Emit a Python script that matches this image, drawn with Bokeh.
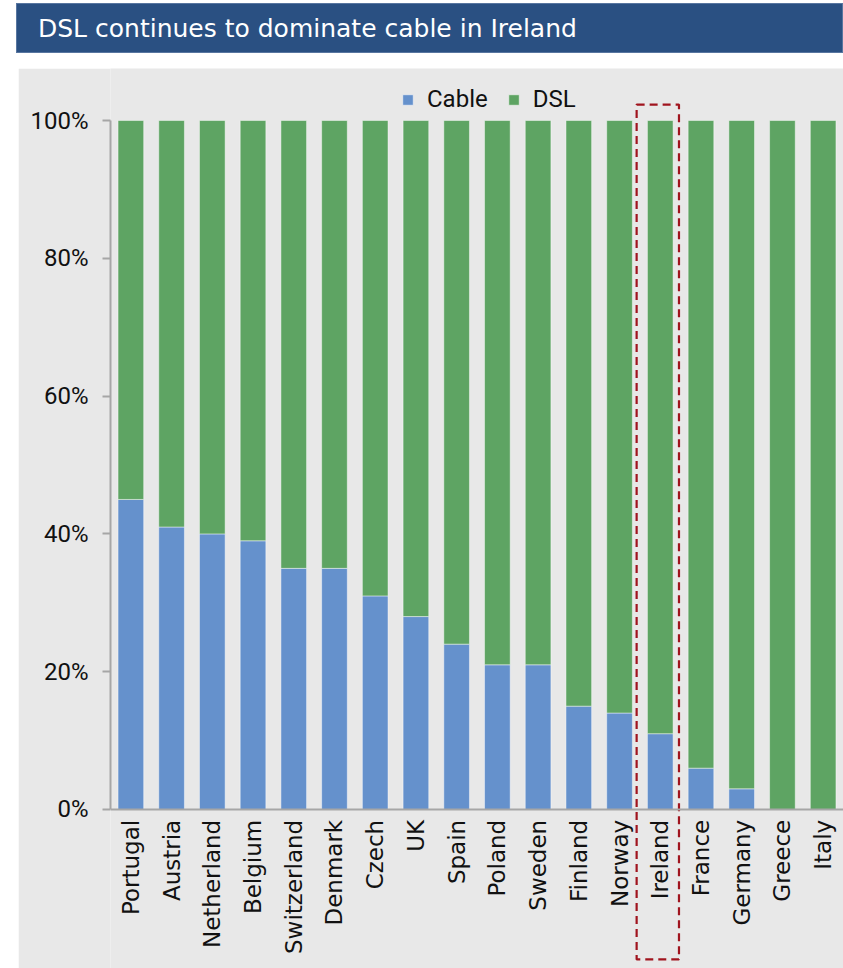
from bokeh.plotting import figure
from bokeh.models import (ColumnDataSource, FactorRange, Range1d, FixedTicker,
                          PrintfTickFormatter, Span, Div, Legend)
from bokeh.layouts import column
from bokeh.core.properties import value
from bokeh.embed import file_html
from bokeh.resources import INLINE
import math

# ---- data ----
countries = ["Portugal", "Austria", "Netherland", "Belgium", "Switzerland", "Denmark",
             "Czech", "UK", "Spain", "Poland", "Sweden", "Finland", "Norway", "Ireland",
             "France", "Germany", "Greece", "Italy"]
cable = [45, 41, 40, 39, 35, 35, 31, 28, 24, 21, 21, 15, 14, 11, 6, 3, 0, 0]
dsl = [55, 59, 60, 61, 65, 65, 69, 72, 76, 79, 79, 85, 86, 89, 94, 97, 100, 100]
y_ticks = [0, 20, 40, 60, 80, 100]
highlight = "Ireland"
title_text = "DSL continues to dominate cable in Ireland"

BLUE = "#6591cc"
GREEN = "#5ea463"
PANEL = "#e8e8e8"
TICK_FONT = "Roboto"

src = ColumnDataSource(dict(country=countries, Cable=cable, DSL=dsl))

p = figure(width=825, height=900, output_backend="svg", toolbar_location=None,
           x_range=FactorRange(factors=countries, range_padding=0),
           y_range=Range1d(-23.08, 107.55),
           x_axis_location=None, margin=(15, 0, 0, 18))
p.min_border_left = 92
p.min_border_right = 0
p.min_border_top = 0
p.min_border_bottom = 0
p.border_fill_color = PANEL
p.background_fill_color = PANEL
p.outline_line_color = None
p.xgrid.visible = False
p.ygrid.visible = False

renderers = p.vbar_stack(["Cable", "DSL"], x="country", width=0.63, source=src,
                         color=[BLUE, GREEN], line_color="#ffffff", line_alpha=0.45,
                         line_width=1)

# y axis
ax = p.yaxis[0]
ax.bounds = (0, 100)
ax.ticker = FixedTicker(ticks=y_ticks)
ax.formatter = PrintfTickFormatter(format="%d%%")
ax.axis_line_color = "#a6a6a6"
ax.axis_line_width = 2
ax.major_tick_line_color = "#a6a6a6"
ax.major_tick_line_width = 2
ax.major_tick_out = 8
ax.major_tick_in = 0
ax.minor_tick_line_color = None
ax.major_label_standoff = 14
ax.major_label_text_font = TICK_FONT
ax.major_label_text_font_size = "24px"
ax.major_label_text_color = "#111111"

# x axis line
p.add_layout(Span(location=0, dimension="width", line_color="#a6a6a6", line_width=2))

# category labels
p.text(x="country", y=-1.5, text="country", source=src, angle=math.pi / 2,
       text_align="right", text_baseline="middle",
       text_font=value("DejaVu Sans"), text_font_size="23px", text_color="#111111")

# highlight box around Ireland
hi = countries.index(highlight)
p.quad(left=[hi - 0.08], right=[hi + 0.96], bottom=[-21.77], top=[102.32],
       fill_color=None, line_color="#a0141e", line_width=2.2, line_dash="8 5")

legend = Legend(items=[("Cable", [renderers[0]]), ("DSL", [renderers[1]])],
                location=(291, 855), orientation="horizontal",
                background_fill_alpha=0, border_line_color=None,
                label_text_font=TICK_FONT, label_text_font_size="24px",
                label_text_color="#111111",
                glyph_width=13, glyph_height=13, label_standoff=13, spacing=19,
                padding=0, margin=0)
p.add_layout(legend, "center")

title = Div(text=title_text, width=827, height=50, margin=(3, 0, 0, 16),
            styles={"background-color": "#2a5082", "color": "white",
                    "font-family": "DejaVu Sans, sans-serif", "font-size": "25px",
                    "padding-left": "21px", "line-height": "50px",
                    "white-space": "nowrap",
                    "box-sizing": "border-box", "border": "1px solid #5876a0"})

layout = column(title, p, spacing=0)
open("out.html", "w").write(file_html(layout, INLINE))
